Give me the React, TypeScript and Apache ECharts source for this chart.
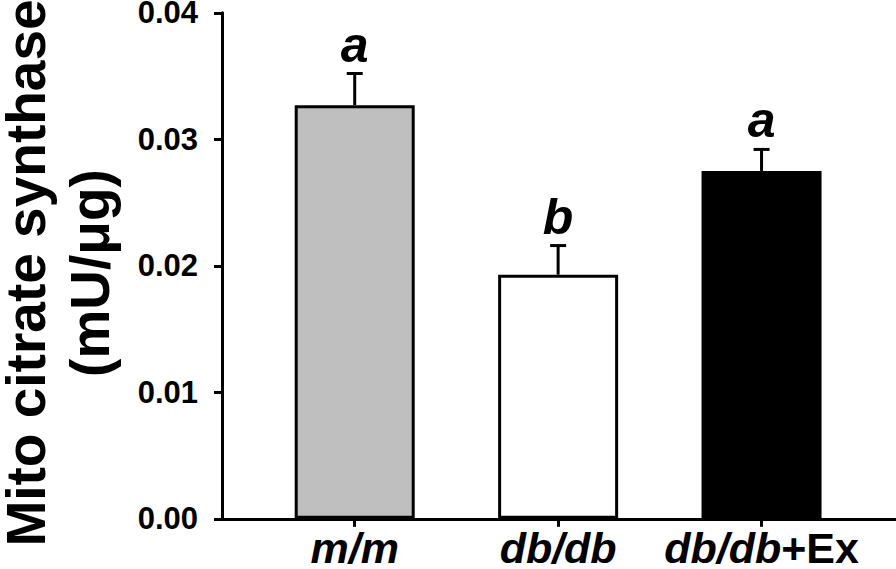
import React, { useEffect, useRef } from "react";
import * as echarts from "echarts";

const categories = ["m/m", "db/db", "db/db+Ex"];
const means = [0.0327, 0.0193, 0.0275];
const sems = [0.0025, 0.0023, 0.0017];
const letters = ["a", "b", "a"];
const barColors = ["#bfbfbf", "#ffffff", "#000000"];
const yMin = 0;
const yMax = 0.04;
const yStep = 0.01;
const yTitle = "Mito citrate synthase\n(mU/\u03bcg)";

const FONT = '"Liberation Sans", Arial, Helvetica, sans-serif';

export default function App() {
  const ref = useRef<HTMLDivElement>(null);
  useEffect(() => {
    if (!ref.current) return;
    const chart = echarts.init(ref.current, null, { renderer: "svg" });
    const idx = categories.map((_, i) => i);
    chart.setOption({
      animation: false,
      backgroundColor: "#ffffff",
      grid: {
        left: 222,
        right: 0,
        top: 12.8,
        bottom: 50.2,
        containLabel: false,
        outerBoundsMode: "none",
      },
      xAxis: {
        type: "value",
        min: -0.6524,
        max: 2.661,
        axisLine: { show: true, onZero: false, lineStyle: { color: "#000", width: 3 } },
        axisTick: { show: true, customValues: idx, length: 8, lineStyle: { color: "#000", width: 3 } },
        axisLabel: {
          show: true,
          customValues: idx,
          margin: 8,
          formatter: (v: number) => {
            const c = categories[Math.round(v)] || "";
            const k = c.indexOf("+");
            if (k < 0) return `{i|${c}}`;
            return `{i|${c.slice(0, k)}}{n|${c.slice(k)}}`;
          },
          rich: {
            i: { fontStyle: "italic", fontWeight: "bold", fontSize: 43, fontFamily: FONT, color: "#000" },
            n: { fontStyle: "normal", fontWeight: "bold", fontSize: 43, fontFamily: FONT, color: "#000" },
          },
        },
        splitLine: { show: false },
      },
      yAxis: {
        type: "value",
        min: yMin,
        max: yMax,
        interval: yStep,
        axisLine: { show: true, onZero: false, lineStyle: { color: "#000", width: 3 } },
        axisTick: { show: true, length: 8, lineStyle: { color: "#000", width: 3 } },
        axisLabel: {
          margin: 24,
          formatter: (v: number) => v.toFixed(2),
          fontFamily: FONT,
          fontWeight: "bold",
          fontSize: 31,
          color: "#000",
        },
        splitLine: { show: false },
      },
      graphic: [
        {
          type: "text",
          x: 58,
          y: 273,
          rotation: Math.PI / 2,
          style: {
            text: yTitle,
            fontFamily: FONT,
            fontWeight: "bold",
            fontSize: 55,
            lineHeight: 64,
            fill: "#000",
            align: "center",
            verticalAlign: "middle",
          },
        },
      ],
      series: [
        {
          type: "bar",
          barWidth: 120,
          data: means.map((m, i) => ({
            value: [i, m],
            itemStyle: { color: barColors[i], borderColor: "#000", borderWidth: 3 },
          })),
          z: 2,
        },
        {
          type: "custom",
          z: 3,
          data: means.map((m, i) => [i, m, sems[i]]),
          encode: { x: 0, y: 1 },
          renderItem: (params: any, api: any) => {
            const i = api.value(0);
            const m = api.value(1);
            const e = api.value(2);
            const base = api.coord([i, m]);
            const top = api.coord([i, m + e]);
            return {
              type: "group",
              children: [
                { type: "line", shape: { x1: base[0], y1: base[1], x2: top[0], y2: top[1] }, style: { stroke: "#000", lineWidth: 3 } },
                { type: "line", shape: { x1: top[0] - 8, y1: top[1], x2: top[0] + 8, y2: top[1] }, style: { stroke: "#000", lineWidth: 3 } },
                {
                  type: "text",
                  x: top[0],
                  y: top[1] - 4,
                  style: {
                    text: letters[params.dataIndex],
                    fontFamily: FONT,
                    fontWeight: "bold",
                    fontStyle: "italic",
                    fontSize: 50,
                    fill: "#000",
                    align: "center",
                    verticalAlign: "bottom",
                  },
                },
              ],
            };
          },
        },
      ],
    });
    return () => chart.dispose();
  }, []);
  return (
    <div
      ref={ref}
      style={{ position: "fixed", left: 0, top: 0, width: 896, height: 569, background: "#fff" }}
    />
  );
}
